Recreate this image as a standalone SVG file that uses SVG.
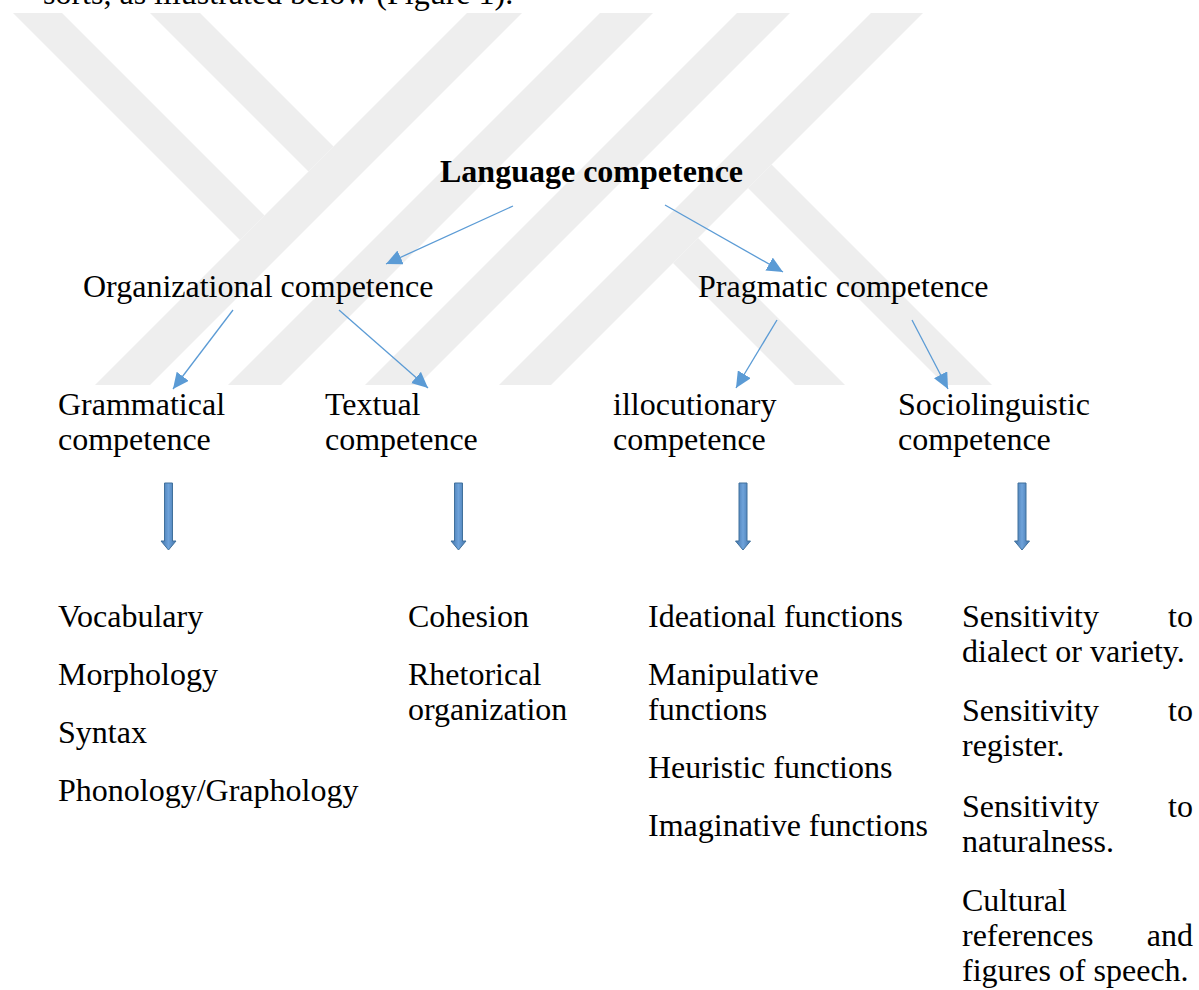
<svg xmlns="http://www.w3.org/2000/svg" width="1199" height="990" viewBox="0 0 1199 990">
<style>
text{font-family:"Liberation Serif","Times New Roman",serif;font-size:32px;fill:#000}
.b{font-weight:bold}
.wm{fill:#eeeeee}
.ln{stroke:#5b9bd5;stroke-width:1.3;fill:none}
.blk{fill:url(#bg);stroke:#41719c;stroke-width:1}
</style>
<defs>
<marker id="ah" markerUnits="userSpaceOnUse" markerWidth="17" markerHeight="15" refX="16" refY="7.5" orient="auto">
<path d="M0,0 L16,7.5 L0,15 Z" fill="#5b9bd5"/>
</marker>
<linearGradient id="bg" x1="0" y1="0" x2="1" y2="0">
<stop offset="0" stop-color="#3f72aa"/>
<stop offset="0.5" stop-color="#6fa3da"/>
<stop offset="1" stop-color="#3f72aa"/>
</linearGradient>
</defs>
<rect width="1199" height="990" fill="#ffffff"/>
<g id="watermark">
<polygon class="wm" points="13,13 62,13 264.5,215.5 240,240"/>
<polygon class="wm" points="150,13 200,13 333.5,146.5 308.5,171.5"/>
<polygon class="wm" points="467,13 522,13 150,385 95,385"/>
<polygon class="wm" points="600,13 653,13 281,385 228,385"/>
<polygon class="wm" points="737,13 790,13 418,385 365,385"/>
<polygon class="wm" points="871,13 923,13 551,385 499,385"/>
<polygon class="wm" points="673,263 698,238 845,385 795,385"/>
<polygon class="wm" points="748,188 771.5,164.5 992,385 945,385"/>
</g>
<text x="43" y="4">sorts, as illustrated below (Figure 1).</text>
<g id="connectors">
<line class="ln" x1="513" y1="206" x2="386" y2="264" marker-end="url(#ah)"/>
<line class="ln" x1="665" y1="205" x2="783" y2="272" marker-end="url(#ah)"/>
<line class="ln" x1="233" y1="310" x2="173" y2="389" marker-end="url(#ah)"/>
<line class="ln" x1="339" y1="310" x2="428" y2="388" marker-end="url(#ah)"/>
<line class="ln" x1="777" y1="320" x2="736" y2="388" marker-end="url(#ah)"/>
<line class="ln" x1="912" y1="320" x2="948" y2="389" marker-end="url(#ah)"/>
<path class="blk" d="M164.5,483 H172.5 V541 H176 L168.5,550 L161,541 H164.5 Z"/>
<path class="blk" d="M454.5,483 H462.5 V541 H466 L458.5,550 L451,541 H454.5 Z"/>
<path class="blk" d="M739,483 H747 V541 H750.5 L743,550 L735.5,541 H739 Z"/>
<path class="blk" d="M1018,483 H1026 V541 H1029.5 L1022,550 L1014.5,541 H1018 Z"/>
</g>
<g id="language"><text class="b" x="440" y="182">Language competence</text></g>
<g id="organizational"><text x="83" y="297">Organizational competence</text></g>
<g id="pragmatic"><text x="698" y="297">Pragmatic competence</text></g>
<g id="grammatical"><text x="58" y="415">Grammatical</text><text x="58" y="450">competence</text></g>
<g id="textual"><text x="325" y="415">Textual</text><text x="325" y="450">competence</text></g>
<g id="illocutionary"><text x="613" y="415">illocutionary</text><text x="613" y="450">competence</text></g>
<g id="sociolinguistic"><text x="898" y="415">Sociolinguistic</text><text x="898" y="450">competence</text></g>
<g id="grammatical-list">
<text x="58" y="627">Vocabulary</text>
<text x="58" y="685">Morphology</text>
<text x="58" y="743">Syntax</text>
<text x="58" y="801">Phonology/Graphology</text>
</g>
<g id="textual-list">
<text x="408" y="627">Cohesion</text>
<text x="408" y="685">Rhetorical</text>
<text x="408" y="720">organization</text>
</g>
<g id="illocutionary-list">
<text x="648" y="627">Ideational functions</text>
<text x="648" y="685">Manipulative</text>
<text x="648" y="720">functions</text>
<text x="648" y="778">Heuristic functions</text>
<text x="648" y="836">Imaginative functions</text>
</g>
<g id="sociolinguistic-list">
<text x="962" y="627">Sensitivity</text><text x="1193" y="627" text-anchor="end">to</text>
<text x="962" y="662">dialect or variety.</text>
<text x="962" y="721">Sensitivity</text><text x="1193" y="721" text-anchor="end">to</text>
<text x="962" y="756">register.</text>
<text x="962" y="817">Sensitivity</text><text x="1193" y="817" text-anchor="end">to</text>
<text x="962" y="852">naturalness.</text>
<text x="962" y="911">Cultural</text>
<text x="962" y="946">references</text><text x="1193" y="946" text-anchor="end">and</text>
<text x="962" y="981">figures of speech.</text>
</g>
</svg>
